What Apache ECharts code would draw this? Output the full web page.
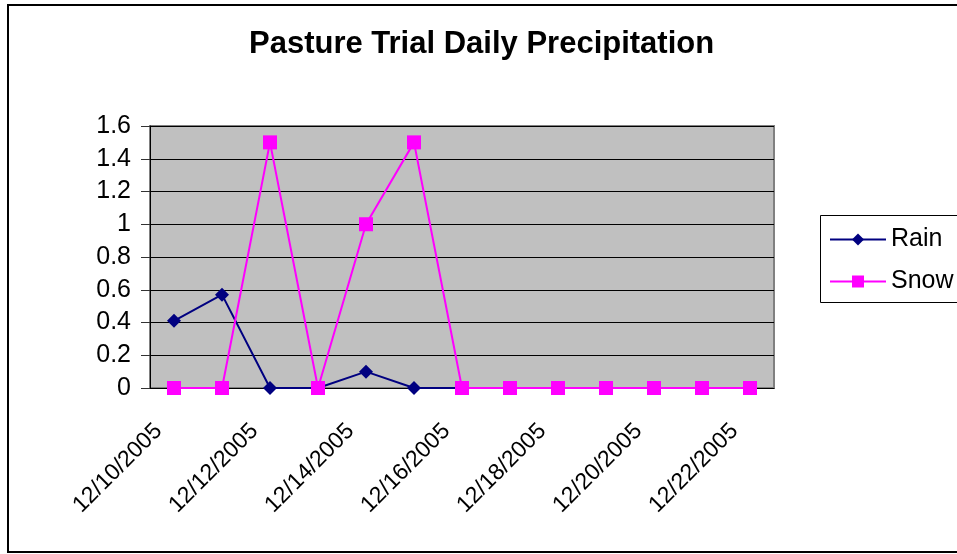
<!DOCTYPE html>
<html lang="en">

<head>
  <meta charset="UTF-8" />
  <title>Pasture Trial Daily Precipitation</title>
  <script src="https://cdn.jsdelivr.net/npm/echarts@6/dist/echarts.min.js"></script>
</head>

<body style="margin: 0; overflow: hidden; background: #fff;">
  <div id="panel" style="width: 957px; height: 554px;"></div>
  <script>
    var dates = ['12/10/2005', '12/11/2005', '12/12/2005', '12/13/2005', '12/14/2005',
      '12/15/2005', '12/16/2005', '12/17/2005', '12/18/2005', '12/19/2005',
      '12/20/2005', '12/21/2005', '12/22/2005'];
    var rain = [0.41, 0.57, 0, 0, 0.1, 0, 0, 0, 0, 0, 0, 0, 0];
    var snow = [0, 0, 1.5, 0, 1, 1.5, 0, 0, 0, 0, 0, 0, 0];

    var font = 'Liberation Sans, Arial, sans-serif';
    var myChart = echarts.init(document.getElementById('panel'));

    var option = {
      animation: false,
      title: {
        text: 'Pasture Trial Daily Precipitation',
        left: 249,
        top: 29,
        padding: 0,
        textStyle: { fontFamily: font, fontSize: 31, fontWeight: 'bold', color: '#000' }
      },
      graphic: [
        {
          type: 'rect',
          shape: { x: 8, y: 5, width: 1000, height: 547 },
          style: { fill: 'none', stroke: '#000', lineWidth: 2 },
          z: -1
        },
        {
          type: 'rect',
          shape: { x: 820.5, y: 215.5, width: 200, height: 87 },
          style: { fill: '#fff', stroke: '#000', lineWidth: 1 },
          z: 0
        }
      ],
      legend: {
        orient: 'vertical',
        left: 829,
        top: 227,
        padding: 0,
        itemWidth: 56,
        itemHeight: 15,
        itemGap: 17,
        z: 5,
        textStyle: { fontFamily: font, fontSize: 25, color: '#000' },
        data: ['Rain', 'Snow']
      },
      grid: {
        left: 150,
        top: 126,
        width: 624,
        height: 262,
        show: true,
        backgroundColor: '#C0C0C0',
        borderColor: '#808080',
        borderWidth: 2
      },
      xAxis: {
        type: 'category',
        data: dates,
        boundaryGap: true,
        axisLine: { lineStyle: { color: '#000', width: 1 } },
        axisTick: { interval: 1, length: 7, lineStyle: { color: '#555' } },
        axisLabel: {
          interval: 1,
          rotate: 45,
          margin: 24,
          padding: [0, 22, 0, 0],
          fontFamily: font,
          fontSize: 23,
          color: '#000'
        }
      },
      yAxis: {
        type: 'value',
        min: 0,
        max: 1.6,
        interval: 0.2,
        axisLine: { show: true, lineStyle: { color: '#000', width: 1 } },
        axisTick: { show: true, length: 9, lineStyle: { color: '#333' } },
        splitLine: { lineStyle: { color: '#000', width: 1 } },
        axisLabel: {
          margin: 19,
          fontFamily: font,
          fontSize: 25,
          color: '#000',
          formatter: function (v) { return String(Math.round(v * 10) / 10); }
        }
      },
      series: [
        {
          name: 'Rain',
          type: 'line',
          data: rain,
          symbol: 'diamond',
          symbolSize: 14,
          showAllSymbol: true,
          itemStyle: { color: '#000080' },
          lineStyle: { color: '#000080', width: 2 }
        },
        {
          name: 'Snow',
          type: 'line',
          data: snow,
          symbol: 'rect',
          symbolSize: 14,
          showAllSymbol: true,
          itemStyle: { color: '#FF00FF' },
          lineStyle: { color: '#FF00FF', width: 2 }
        }
      ]
    };

    myChart.setOption(option);
  </script>
</body>

</html>
